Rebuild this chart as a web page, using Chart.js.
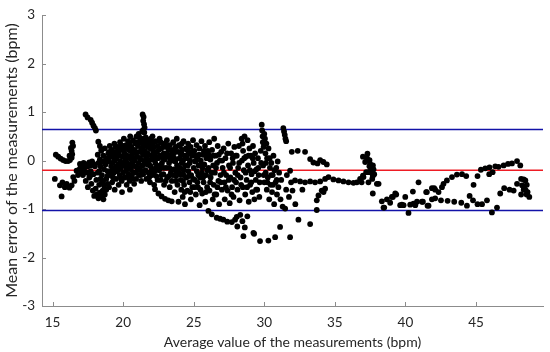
<!DOCTYPE html>
<html>
<head>
<meta charset="utf-8">
<script src="https://cdn.jsdelivr.net/npm/chart.js@4.4.1/dist/chart.umd.min.js"></script>
<style>
html, body { margin: 0; padding: 0; background: #fff; }
#wrap { width: 550px; height: 352px; position: relative; }
</style>
</head>
<body>
<div id="wrap"><canvas id="chart"></canvas></div>
<script>
// axis setup
const xTicks = [15, 20, 25, 30, 35, 40, 45];
const yTicks = [-3, -2, -1, 0, 1, 2, 3];
const xRange = [14.25, 49.75];
const yRange = [-3, 3];

// mean difference and limits of agreement
const upperLimit = 0.64;
const meanDiff = -0.2;
const lowerLimit = -1.03;

// [average bpm, mean error bpm], estimated from the plot
const measurements = [
  [15.23,0.12],[15.4,0.08],[15.57,0.04],[15.75,0.01],[15.92,-0.01],[16.1,-0.01],[16.23,0.01],[16.35,0.06],[16.39,0.13],[16.35,0.2],[16.3,0.26],[16.4,0.37],[16.2,0.1],[16.45,0.3],
  [15.16,-0.38],[15.64,-0.74],[15.52,-0.51],[15.7,-0.45],[15.87,-0.55],[16.0,-0.48],[16.2,-0.56],[16.35,-0.51],[16.46,-0.34],[16.55,-0.42],[16.7,-0.21],[16.8,-0.3],[16.94,-0.07],[16.9,-0.18],[17.0,-0.12],[17.05,-0.25],
  [17.34,0.95],[17.48,0.89],[17.7,0.84],[17.8,0.78],[17.9,0.72],[18.0,0.67],[18.07,0.62],[18.24,0.39],[18.35,0.3],[18.47,0.23],
  [17.1,-0.1],[17.2,-0.05],[17.3,-0.14],[17.4,-0.08],[17.5,-0.12],[17.6,-0.04],[17.7,-0.1],[17.8,-0.02],[17.9,-0.07],[18.0,-0.12],
  [17.15,-0.3],[17.35,-0.42],[17.5,-0.55],[17.6,-0.35],[17.75,-0.48],[17.85,-0.62],[17.95,-0.73],[18.05,-0.58],[18.15,-0.7],[18.25,-0.78],
  [18.35,-0.66],[18.45,-0.74],[18.55,-0.62],[18.6,-0.8],[18.7,-0.7],[18.3,-0.5],[18.1,-0.4],[17.9,-0.28],[17.7,-0.22],[18.2,-0.25],
  [17.2,-0.2],[17.45,-0.25],[17.65,-0.32],[18.4,-0.38],[18.5,-0.45],[18.65,-0.52],[18.8,-0.6],[18.9,-0.48],
  [18.2,0.12],[18.25,-0.05],[18.3,-0.22],[18.35,0.02],[18.4,-0.12],[18.45,0.2],[18.5,-0.3],[18.55,-0.02],[18.6,0.1],[18.65,-0.18],
  [18.7,0.25],[18.75,-0.08],[18.8,-0.38],[18.85,0.05],[18.9,-0.22],[18.95,0.15],[19.0,-0.55],[19.0,-0.02],
  [18.58,-0.42],[18.72,0.0],[18.88,-0.32],[19.02,0.18],[19.18,-0.22],[19.28,-0.35],[19.46,0.28],[19.36,0.05],
  [19.05,0.3],[19.08,-0.3],[19.1,0.08],[19.15,-0.12],[19.2,0.22],[19.22,-0.45],[19.25,-0.05],[19.3,0.12],[19.33,-0.25],[19.38,0.35],
  [19.4,-0.6],[19.42,0.0],[19.45,-0.15],[19.5,0.18],[19.5,-0.38],[19.15,0.15],[19.35,-0.18],
  [19.55,0.05],[19.58,-0.22],[19.6,0.28],[19.65,-0.08],[19.68,-0.5],[19.7,0.14],[19.75,-0.3],[19.78,0.38],[19.8,-0.02],[19.85,-0.15],
  [19.88,0.22],[19.9,-0.42],[19.95,0.08],[20.0,-0.25],[20.0,0.3],[19.92,-0.65],[19.62,0.1],[19.82,-0.35],
  [19.52,-0.12],[19.66,0.2],[19.72,-0.18],[19.86,0.3],[19.98,-0.08],[20.08,0.25],[20.26,-0.12],[20.36,0.08],[20.46,0.35],[20.4,-0.35],
  [20.05,0.45],[20.05,-0.1],[20.1,0.15],[20.12,-0.35],[20.15,0.02],[20.2,0.32],[20.22,-0.2],[20.25,-0.5],[20.28,0.1],[20.3,-0.05],
  [20.35,0.4],[20.38,-0.28],[20.4,0.22],[20.42,-0.12],[20.45,-0.42],[20.5,0.05],[20.5,0.5],[20.48,-0.6],[20.18,-0.02],[20.32,0.25],
  [20.55,-0.18],[20.58,0.28],[20.6,-0.32],[20.62,0.12],[20.65,-0.05],[20.7,0.42],[20.72,-0.25],[20.75,0.2],[20.78,-0.48],[20.8,0.0],
  [20.85,0.35],[20.88,-0.12],[20.9,0.15],[20.92,-0.38],[20.95,0.5],[21.0,-0.2],[21.0,0.08],[20.62,-0.12],[20.82,0.22],
  [20.52,0.2],[20.68,-0.38],[20.74,0.05],[20.86,-0.25],[20.98,0.38],[21.06,-0.15],[21.16,0.48],[21.26,-0.3],[21.36,0.35],[21.46,0.15],
  [21.05,0.3],[21.08,-0.05],[21.1,0.55],[21.12,-0.3],[21.15,0.18],[21.2,-0.15],[21.22,0.4],[21.25,0.02],[21.28,-0.42],[21.3,0.25],
  [21.35,0.6],[21.38,-0.1],[21.4,0.12],[21.42,-0.28],[21.45,0.45],[21.5,-0.02],[21.5,0.3],[21.18,0.05],[21.32,-0.22],
  [21.38,0.95],[21.45,0.9],[21.42,0.82],[21.48,0.75],[21.52,0.68],[21.4,0.62],[21.5,0.58],
  [21.55,0.2],[21.58,-0.2],[21.6,0.48],[21.62,0.05],[21.65,-0.38],[21.7,0.32],[21.72,-0.08],[21.75,0.15],[21.8,-0.25],[21.82,0.42],
  [21.85,0.0],[21.9,-0.45],[21.92,0.25],[21.95,-0.12],[22.0,0.35],[22.0,0.1],[21.68,0.1],[21.88,-0.1],
  [21.56,0.38],[21.64,-0.05],[21.78,0.28],[21.84,-0.35],[21.96,0.45],[22.02,-0.2],[22.16,0.38],[22.24,-0.22],[22.36,0.05],[22.44,-0.4],
  [22.05,-0.3],[22.08,0.5],[22.1,0.02],[22.15,-0.18],[22.18,0.28],[22.2,-0.5],[22.25,0.12],[22.28,-0.05],[22.3,0.4],[22.35,-0.32],
  [22.38,0.18],[22.4,-0.12],[22.45,0.3],[22.26,-0.59],[22.5,-0.68],[22.48,0.05],[22.12,0.2],[22.32,-0.15],
  [22.55,-0.2],[22.58,0.45],[22.6,0.1],[22.65,-0.4],[22.7,0.25],[22.73,-0.74],[22.75,-0.05],[22.8,0.35],[22.85,-0.28],[22.88,0.15],
  [22.9,-0.5],[22.95,0.02],[22.97,-0.79],[23.0,0.28],[22.62,-0.1],[22.82,0.05],
  [22.52,0.22],[22.66,0.38],[22.72,-0.3],[22.86,-0.15],[22.92,0.35],[23.02,-0.42],[23.14,0.3],[23.24,-0.32],[23.36,0.02],[23.46,0.22],
  [23.05,-0.15],[23.1,0.42],[23.12,-0.35],[23.15,0.08],[23.2,-0.82],[23.22,0.22],[23.25,-0.05],[23.3,-0.55],[23.32,0.32],[23.38,-0.25],
  [23.4,0.12],[23.44,-0.84],[23.45,-0.42],[23.5,0.0],[23.08,0.15],[23.28,-0.15],
  [23.55,0.38],[23.58,-0.18],[23.6,0.15],[23.65,-0.65],[23.7,-0.02],[23.72,0.28],[23.75,-0.32],[23.8,0.45],[23.82,-0.1],[23.85,-0.5],
  [23.9,0.18],[23.92,-0.85],[23.95,-0.25],[24.0,0.05],[23.62,0.05],[23.78,-0.22],
  [23.52,-0.3],[23.66,0.22],[23.74,-0.42],[23.88,-0.15],[23.96,0.32],[24.04,-0.28],[24.16,0.35],[24.24,-0.42],[24.36,-0.65],[24.44,0.05],
  [24.02,0.3],[24.05,-0.15],[24.08,-0.4],[24.1,0.12],[24.12,-0.6],[24.15,-0.05],[24.18,0.22],[24.2,-0.28],[24.22,-0.75],[24.25,0.0],
  [24.28,0.4],[24.3,-0.2],[24.32,-0.5],[24.35,0.1],[24.38,-0.9],[24.4,-0.1],[24.45,0.25],[24.48,-0.35],[24.12,0.15],[24.28,-0.3],
  [24.52,0.05],[24.55,-0.62],[24.6,0.35],[24.62,-0.22],[24.65,0.15],[24.7,-0.45],[24.72,-0.05],[24.78,0.28],[24.8,-0.8],[24.82,-0.3],
  [24.88,0.1],[24.9,-0.55],[24.95,0.42],[25.0,-0.15],[24.58,-0.1],[24.75,0.0],
  [24.54,0.22],[24.66,-0.32],[24.76,-0.65],[24.84,0.18],[24.96,-0.38],[25.04,-0.55],[25.16,0.0],[25.26,-0.45],[25.38,0.12],[25.48,-0.6],
  [25.05,0.2],[25.08,-0.4],[25.1,-0.02],[25.15,-0.7],[25.2,0.32],[25.22,-0.22],[25.28,0.08],[25.3,-0.55],[25.35,-0.1],[25.4,0.25],
  [25.42,-0.92],[25.45,-0.35],[25.5,0.0],[25.12,0.1],[25.32,-0.3],
  [25.55,0.4],[25.58,-0.25],[25.6,-0.68],[25.65,0.12],[25.7,-0.45],[25.75,-0.08],[25.8,0.3],[25.82,-0.85],[25.88,-0.3],[25.9,0.05],
  [25.95,-0.55],[26.0,0.2],[25.62,-0.15],[25.85,0.15],
  [25.54,-0.1],[25.66,-0.35],[25.72,0.2],[25.86,-0.65],[25.96,-0.2],[26.08,0.12],[26.16,-0.45],[26.26,-0.25],[26.4,0.1],[26.48,-0.7],
  [26.04,-1.04],[26.05,-0.15],[26.1,0.38],[26.12,-0.62],[26.18,0.02],[26.2,-0.35],[26.28,-1.11],[26.3,0.22],[26.35,-0.8],[26.38,-0.1],
  [26.42,-0.5],[26.45,0.45],[26.5,-0.25],
  [26.55,0.1],[26.6,-0.7],[26.63,-1.18],[26.65,-0.05],[26.7,0.3],[26.75,-0.42],[26.8,-0.9],[26.85,0.0],[26.87,-1.2],[26.9,-0.3],
  [26.95,0.18],[27.0,-0.6],
  [26.58,-0.15],[26.68,-0.55],[26.78,0.12],[26.92,-0.45],[27.02,0.0],[27.14,-0.25],[27.28,-0.55],[27.36,0.15],[27.48,-0.4],
  [27.05,-0.15],[27.1,-1.22],[27.12,0.25],[27.18,-0.45],[27.2,-0.8],[27.25,0.05],[27.3,-0.3],[27.38,-1.26],[27.4,-0.62],[27.45,0.35],
  [27.5,-0.1],
  [27.55,-0.88],[27.6,-0.35],[27.65,0.15],[27.7,-1.27],[27.72,-0.55],[27.78,-0.05],[27.82,-0.75],[27.88,0.28],[27.93,-1.22],[27.95,-0.25],
  [28.0,-0.45],
  [27.58,-0.15],[27.68,-0.7],[27.76,0.05],[27.86,-0.4],[27.98,0.1],[28.12,-0.3],[28.22,-0.05],[28.36,-0.5],[28.46,0.35],
  [28.05,-1.16],[28.09,-1.36],[28.05,0.1],[28.1,-0.6],[28.15,-0.15],[28.2,0.3],[28.25,-0.82],[28.3,-1.12],[28.32,-0.35],[28.4,0.45],
  [28.42,0.0],[28.45,-1.25],[28.48,-0.55],[28.5,0.2],
  [28.52,-1.56],[28.55,-0.2],[28.6,0.5],[28.62,-1.38],[28.65,-0.7],[28.7,0.08],[28.75,-0.4],[28.8,-1.15],[28.82,0.42],[28.85,-0.1],
  [28.9,-0.85],[28.95,0.25],[29.0,-0.5],
  [28.58,0.05],[28.68,-0.25],[28.78,-0.55],[28.88,0.1],[28.98,-0.2],[29.08,-0.45],[29.18,0.05],[29.32,-0.22],[29.42,-0.6],
  [29.05,0.1],[29.1,-0.28],[29.15,-0.65],[29.2,0.3],[29.23,-1.49],[29.25,-0.05],[29.3,-0.8],[29.28,-1.51],[29.35,0.15],[29.4,-0.4],
  [29.45,-0.18],[29.5,-0.6],
  [29.55,0.05],[29.6,-0.3],[29.65,-0.75],[29.7,-1.66],[29.75,0.2],[29.82,0.74],[29.85,0.62],[29.88,0.5],[29.9,0.38],[29.92,-0.1],
  [29.95,0.28],[30.0,-0.45],[30.0,0.55],
  [29.58,-0.15],[29.68,-0.45],[29.78,-0.05],[29.96,-0.3],[30.12,-0.05],[30.22,-0.45],[30.38,0.05],[30.48,-0.3],[30.62,-0.5],[30.72,-0.2],
  [30.88,-0.4],
  [30.05,0.45],[30.08,0.15],[30.1,-0.25],[30.15,0.35],[30.18,-0.6],[30.2,0.05],[30.25,-0.35],[30.29,-1.65],[30.3,0.25],[30.35,-0.8],
  [30.4,-0.15],[30.45,-0.5],[30.5,-0.05],
  [30.55,-0.65],[30.6,-0.3],[30.65,0.1],[30.7,-0.9],[30.77,-1.58],[30.8,-0.45],[30.85,-0.15],[30.9,-0.7],[30.95,-0.02],[31.0,-0.55],
  [31.05,-0.25],[31.12,-1.37],[31.15,-0.8],[31.2,-0.4],[31.3,-0.95],[31.35,0.67],[31.4,0.6],[31.45,0.53],[31.5,0.45],[31.48,-0.99],
  [31.55,0.4],[31.55,-0.6],[31.6,-0.3],
  [31.83,-1.58],[31.83,-0.21],[31.75,-0.75],[31.9,-0.45],[31.95,0.18],[32.0,-0.62],[32.18,-0.41],[32.2,-0.9],[32.37,0.2],[32.42,-1.22],
  [32.54,-0.43],[32.7,-0.6],[32.89,-0.45],[32.89,0.18],
  [33.25,-1.31],[33.25,0.03],[33.25,-0.43],[33.48,-0.04],[33.6,-0.45],[33.72,-1.02],[33.72,-0.82],[33.77,-0.06],[33.84,-0.72],[33.96,0.01],
  [33.96,-0.43],[34.07,-0.62],[34.19,-0.03],[34.2,-0.65],[34.31,-0.38],[34.31,-0.58],[34.43,-0.08],[34.55,-0.34],
  [34.9,-0.39],[35.26,-0.41],[35.61,-0.43],[35.97,-0.45],[36.32,-0.46],[36.56,-0.45],[36.79,-0.38],[36.99,-0.31],[36.9,-0.45],
  [36.99,0.08],[37.31,0.14],[37.46,0.01],[37.15,-0.03],[37.5,-0.07],[37.62,-0.14],[37.74,-0.18],[37.55,-0.21],[37.38,-0.24],[37.79,-0.28],
  [37.22,-0.24],[37.03,-0.34],[37.38,-0.45],[37.69,-0.32],[37.98,-0.48],[37.69,-0.68],[37.6,-0.25],[37.7,-0.1],[37.45,-0.12],[37.28,0.05],
  [37.65,-0.38],[38.1,-0.48],
  [38.33,-0.84],[38.45,-0.97],[38.69,-0.8],[38.92,-0.87],[39.11,-0.75],[39.35,-0.7],[39.75,-0.91],[39.99,-0.75],[40.22,-1.08],[40.34,-0.91],
  [40.57,-0.89],[40.82,-0.85],[40.53,-0.64],[40.93,-0.45],[41.24,-0.85],[41.57,-0.93],[41.88,-0.8],[42.04,-0.57],[42.52,-0.82],[42.99,-0.83],
  [43.46,-0.85],[43.96,-0.87],[44.36,-0.93],[44.55,-0.73],[44.79,-0.82],[45.11,-0.9],[45.43,-0.9],[45.78,-0.82],[46.13,-1.07],[46.49,-0.97],
  [46.72,-0.68],[47.0,-0.57],[47.38,-0.6],[47.67,-0.62],[47.91,-0.48],
  [39.04,-0.75],[39.28,-0.68],[38.5,-0.97],[39.63,-0.92],[39.87,-0.92],[40.7,-0.92],[41.17,-0.85],[41.52,-0.65],[41.64,-0.93],[41.88,-0.57],
  [42.11,-0.78],[42.35,-0.65],
  [41.47,-0.65],[42.11,-0.6],[42.59,-0.55],[42.7,-0.48],[42.94,-0.41],[43.3,-0.34],[43.65,-0.29],[44.01,-0.28],[44.31,-0.32],[44.83,-0.5],
  [45.11,-0.32],[45.35,-0.19],[45.66,-0.16],[45.96,-0.14],[45.94,-0.28],[46.18,-0.24],[46.37,-0.12],[46.6,-0.13],[46.96,-0.1],[47.27,-0.07],
  [47.55,-0.06],[47.91,-0.01],[48.14,-0.1],
  [48.2,-0.38],[48.38,-0.39],[48.5,-0.41],[48.27,-0.51],[48.41,-0.57],[48.52,-0.61],[48.66,-0.65],[48.59,-0.7],[48.78,-0.75],[48.2,-0.7],
  [48.38,-0.6],[48.6,-0.5]
];

const fontFamily = 'Lato, "Liberation Sans", sans-serif';
const axisGray = '#8c8c8c';
const textGray = '#262626';

// small inward tick marks like the original figure
const innerTicks = {
  id: 'innerTicks',
  beforeDatasetsDraw(chart) {
    const { ctx, chartArea: a, scales: { x, y } } = chart;
    ctx.save();
    ctx.strokeStyle = axisGray;
    ctx.lineWidth = 1;
    ctx.beginPath();
    xTicks.forEach(v => {
      const px = Math.round(x.getPixelForValue(v)) + 0.5;
      ctx.moveTo(px, a.bottom);
      ctx.lineTo(px, a.bottom - 4);
    });
    yTicks.forEach(v => {
      const py = Math.round(y.getPixelForValue(v)) + 0.5;
      ctx.moveTo(a.left, py);
      ctx.lineTo(a.left + 4, py);
    });
    ctx.stroke();
    ctx.restore();
  }
};

const hLine = (val, color) => ({
  type: 'line',
  data: [{ x: xRange[0], y: val }, { x: xRange[1], y: val }],
  borderColor: color,
  borderWidth: 1.6,
  pointRadius: 0,
  fill: false
});

new Chart(document.getElementById('chart'), {
  type: 'scatter',
  data: {
    datasets: [
      {
        data: measurements.map(p => ({ x: p[0], y: p[1] })),
        backgroundColor: '#000',
        borderWidth: 0,
        pointRadius: 2.9
      },
      hLine(upperLimit, '#1212a8'),
      hLine(meanDiff, '#ee1c24'),
      hLine(lowerLimit, '#1212a8')
    ]
  },
  options: {
    responsive: true,
    maintainAspectRatio: false,
    animation: false,
    layout: { padding: { left: 0, right: 7, top: 10, bottom: 0 } },
    plugins: { legend: { display: false }, tooltip: { enabled: false } },
    scales: {
      x: {
        type: 'linear',
        min: xRange[0],
        max: xRange[1],
        afterBuildTicks: s => { s.ticks = xTicks.map(v => ({ value: v })); },
        afterFit: s => { s.height = 46; },
        grid: { display: false, drawTicks: false },
        border: { display: true, color: axisGray, width: 1 },
        ticks: { padding: 9, color: textGray, font: { family: fontFamily, size: 13.5 } },
        title: {
          display: true,
          text: 'Average value of the measurements (bpm)',
          color: textGray,
          font: { family: fontFamily, size: 14 },
          padding: { top: 0, bottom: 1 }
        }
      },
      y: {
        type: 'linear',
        min: yRange[0],
        max: yRange[1],
        afterBuildTicks: s => { s.ticks = yTicks.map(v => ({ value: v })); },
        afterFit: s => { s.width = 42; },
        grid: { display: false, drawTicks: false },
        border: { display: true, color: axisGray, width: 1 },
        ticks: { padding: 7, color: textGray, font: { family: fontFamily, size: 13.5 } },
        title: {
          display: true,
          text: 'Mean error of the measurements (bpm)',
          color: textGray,
          font: { family: fontFamily, size: 16 },
          padding: { top: 2, bottom: 0 }
        }
      }
    }
  },
  plugins: [innerTicks]
});
</script>
</body>
</html>
